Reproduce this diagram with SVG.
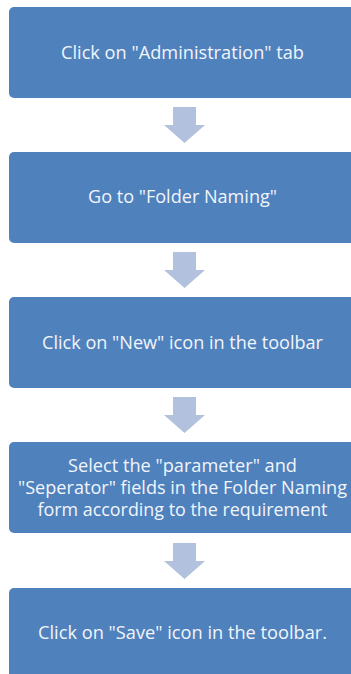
<svg xmlns="http://www.w3.org/2000/svg" width="351" height="674" viewBox="0 0 351 674">
<style>
.box{fill:#4F81BD;}
.lbl{font-family:"Open Sans","Liberation Sans",sans-serif;font-size:17.5px;fill:#F2F5FA;text-anchor:middle;}
.arr{fill:#B2C1DD;}
</style>
<rect width="351" height="674" fill="#FFFFFF"/>
<g id="connectors">
<polygon class="arr" points="173,107 196,107 196,125 205,125 184.5,143 164,125 173,125"/>
<polygon class="arr" points="173,252 196,252 196,270 205,270 184.5,288 164,270 173,270"/>
<polygon class="arr" points="173,397 196,397 196,415 205,415 184.5,433 164,415 173,415"/>
<polygon class="arr" points="173,543 196,543 196,561 205,561 184.5,579 164,561 173,561"/>
</g>
<g id="node1">
<rect class="box" x="9" y="7" width="351" height="91" rx="5"/>
<text class="lbl" x="182.5" y="59" textLength="243" lengthAdjust="spacingAndGlyphs">Click on "Administration" tab</text>
</g>
<g id="node2">
<rect class="box" x="9" y="152" width="351" height="91" rx="5"/>
<text class="lbl" x="182.5" y="203" textLength="189" lengthAdjust="spacingAndGlyphs">Go to "Folder Naming"</text>
</g>
<g id="node3">
<rect class="box" x="9" y="297" width="351" height="91" rx="5"/>
<text class="lbl" x="182.5" y="349" textLength="281" lengthAdjust="spacingAndGlyphs">Click on "New" icon in the toolbar</text>
</g>
<g id="node4">
<rect class="box" x="9" y="442" width="351" height="91" rx="5"/>
<text class="lbl" x="182.5" y="472" textLength="229" lengthAdjust="spacingAndGlyphs">Select the "parameter" and</text>
<text class="lbl" x="182.5" y="494" textLength="329" lengthAdjust="spacingAndGlyphs">"Seperator" fields in the Folder Naming</text>
<text class="lbl" x="182.5" y="516" textLength="290" lengthAdjust="spacingAndGlyphs">form according to the requirement</text>
</g>
<g id="node5">
<rect class="box" x="9" y="588" width="351" height="91" rx="5"/>
<text class="lbl" x="182.5" y="639" textLength="289" lengthAdjust="spacingAndGlyphs">Click on "Save" icon in the toolbar.</text>
</g>
</svg>
